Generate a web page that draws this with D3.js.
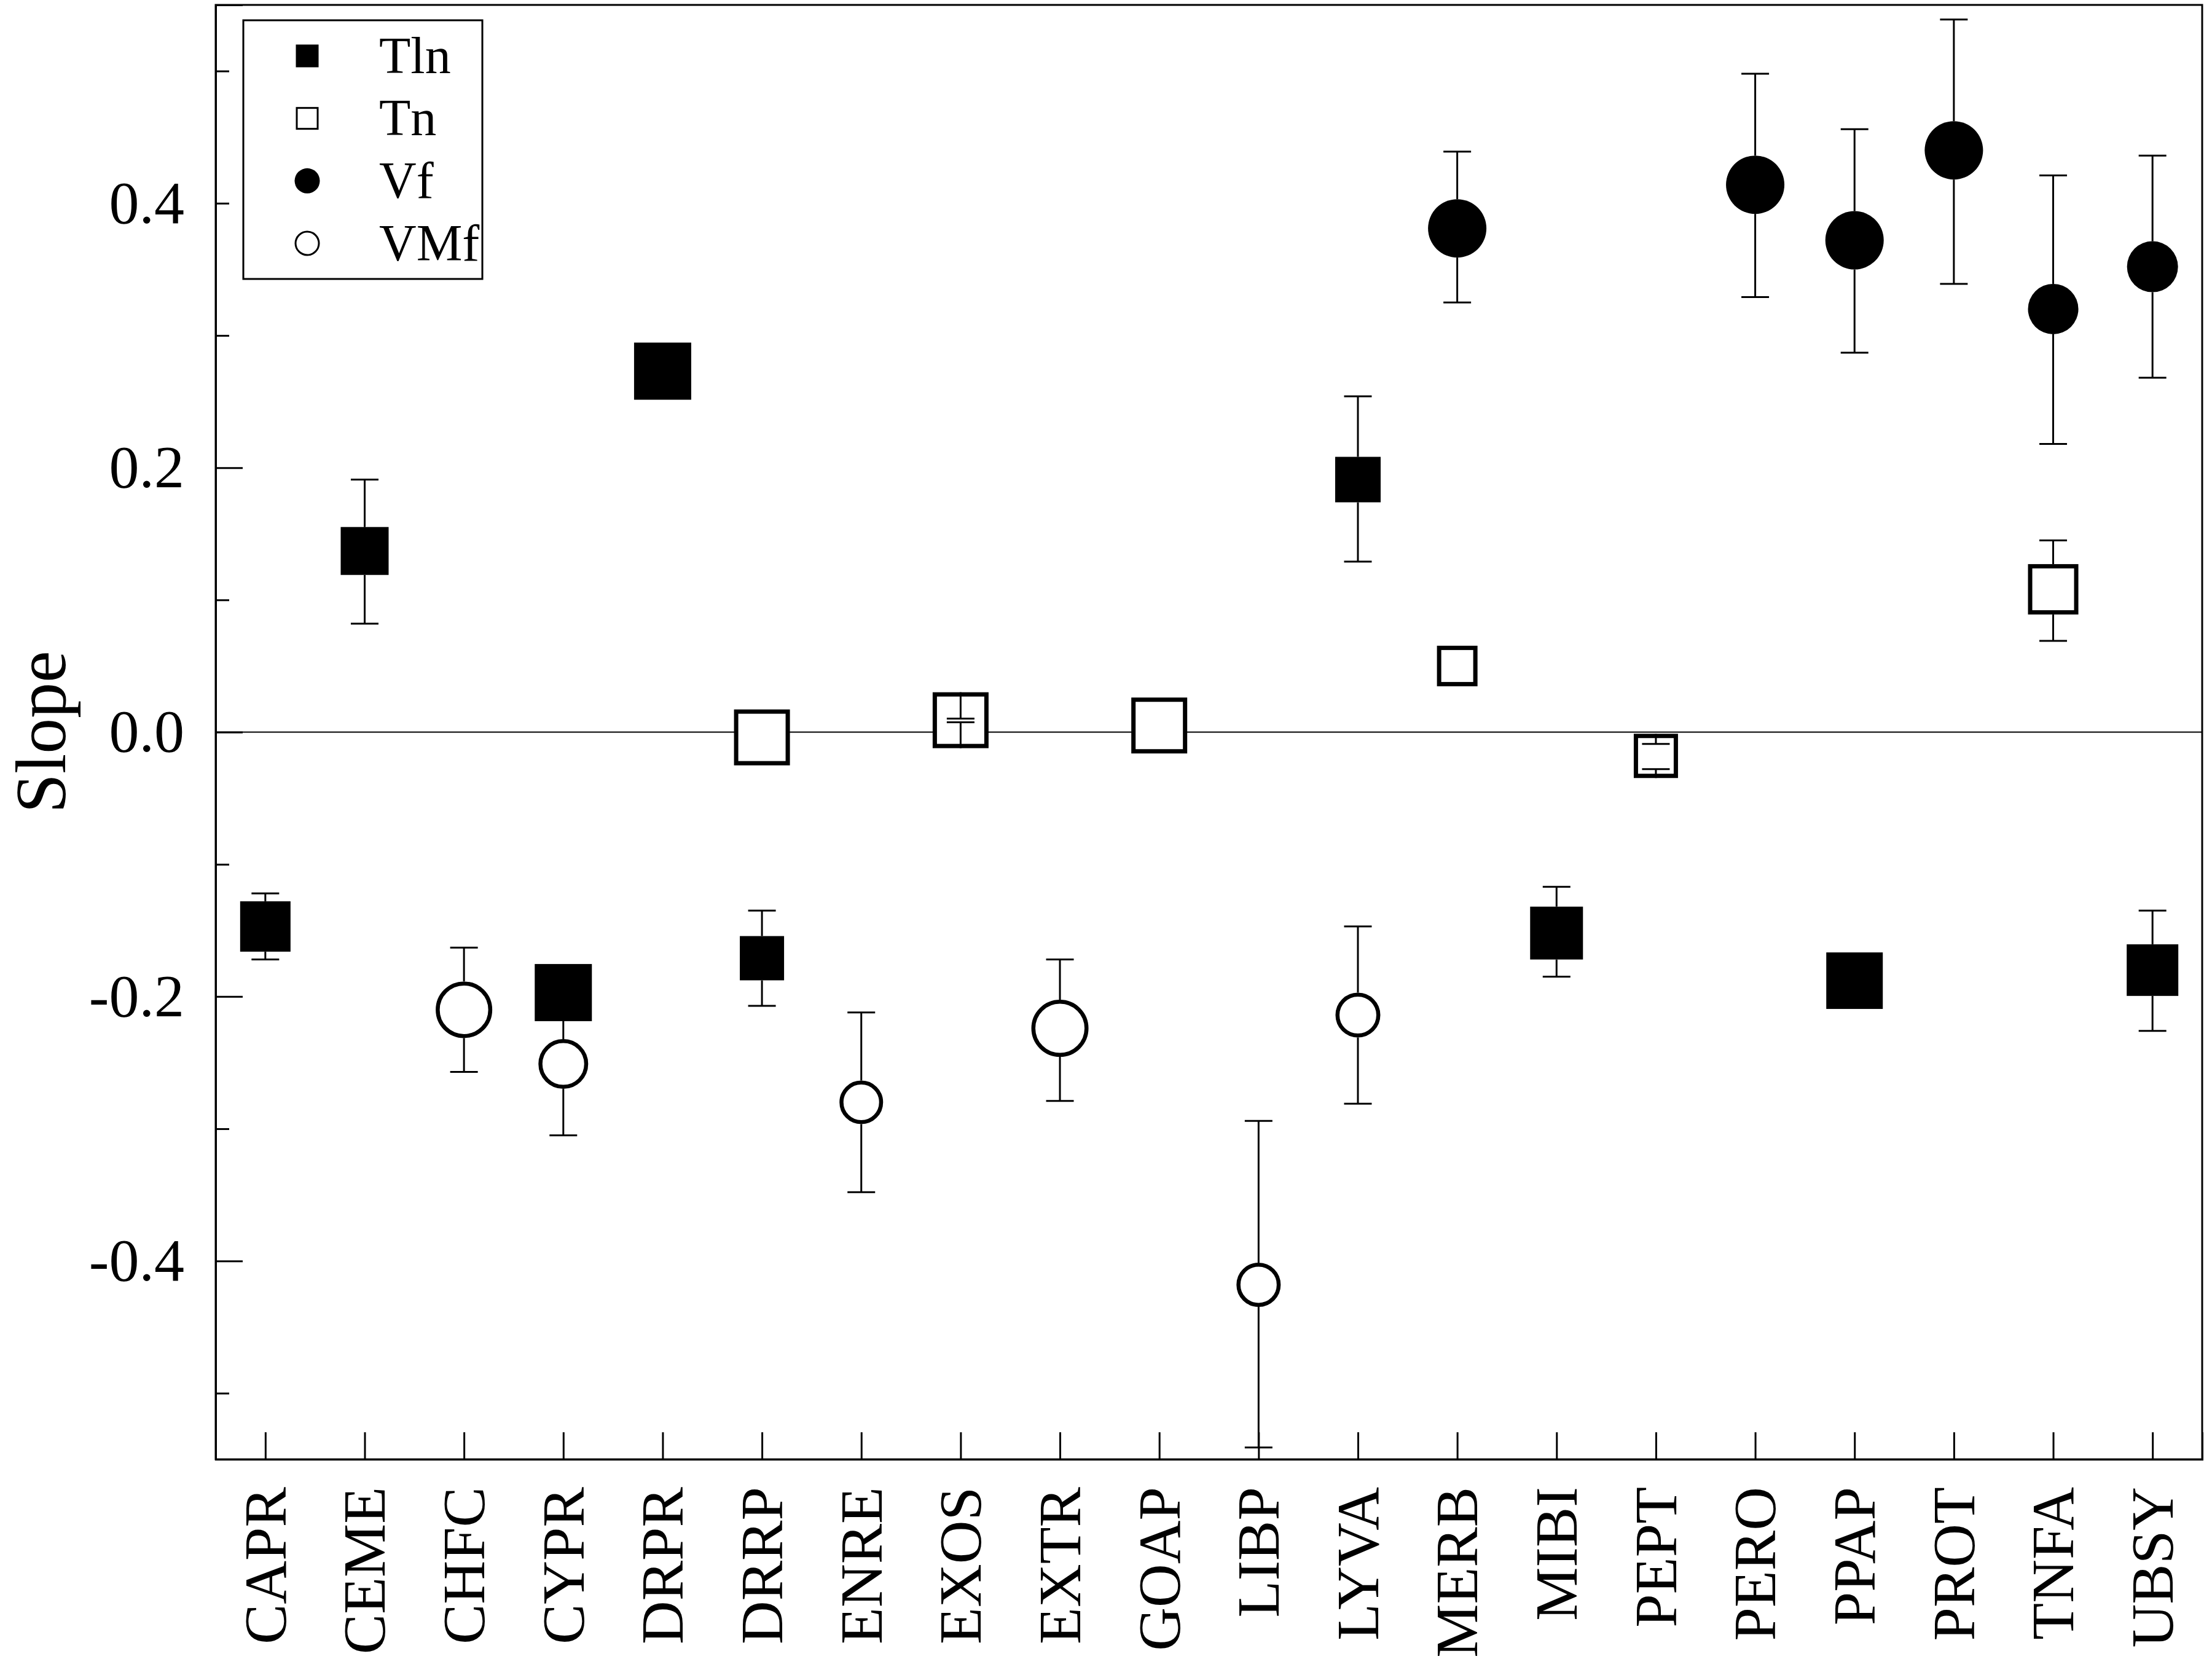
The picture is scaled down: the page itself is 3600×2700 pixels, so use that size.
<!DOCTYPE html>
<html>
<head>
<meta charset="utf-8">
<script src="https://cdn.jsdelivr.net/npm/d3@7"></script>
<style>
  html, body { margin: 0; padding: 0; background: #fff; }
  svg { display: block; }
  text { font-family: "Liberation Serif", "Times New Roman", serif; fill: #000; }
</style>
</head>
<body>
<svg id="chart" width="3600" height="2700"></svg>
<script>
// ---------------- data ----------------
const categories = ["CAPR","CEME","CHFC","CYPR","DRPR","DRRP","ENRE","EXOS","EXTR","GOAP",
                    "LIBP","LYVA","MERB","MIBI","PEPT","PERO","PPAP","PROT","TNFA","UBSY"];

const yMajorTicks = [-0.4, -0.2, 0.0, 0.2, 0.4];
const yTickLabels = ["-0.4", "-0.2", "0.0", "0.2", "0.4"];
const yMinorTicks = [-0.5, -0.3, -0.1, 0.1, 0.3, 0.5];

const seriesNames = ["Tln", "Tn", "Vf", "VMf"];

// Tln (filled squares)
const tlnCats   = ["CAPR","CEME","CYPR","DRPR","DRRP","LYVA","MIBI","PPAP","UBSY"];
const tlnSlope  = [-0.147, 0.137, -0.197, 0.273, -0.171, 0.191, -0.152, -0.188, -0.180];
const tlnLower  = [-0.172, 0.082, null, null, -0.207, 0.129, -0.185, null, -0.226];
const tlnUpper  = [-0.122, 0.191, null, null, -0.135, 0.254, -0.117, null, -0.135];
const tlnWeight = [8.2, 7.8, 9.3, 9.3, 7.2, 7.4, 8.6, 9.2, 8.4];

// Tn (open squares)
const tnCats   = ["DRRP","EXOS","GOAP","MERB","PEPT","TNFA"];
const tnSlope  = [-0.004, 0.009, 0.005, 0.050, -0.018, 0.108];
const tnLower  = [null, 0.0074, null, null, -0.028, 0.069];
const tnUpper  = [null, 0.0102, null, null, -0.009, 0.145];
const tnWeight = [9.1, 9.1, 9.1, 6.6, 7.2, 8.2];

// Vf (filled circles)
const vfCats   = ["MERB","PERO","PPAP","PROT","TNFA","UBSY"];
const vfSlope  = [0.381, 0.414, 0.372, 0.440, 0.320, 0.352];
const vfLower  = [0.325, 0.329, 0.287, 0.339, 0.218, 0.268];
const vfUpper  = [0.439, 0.498, 0.456, 0.539, 0.421, 0.436];
const vfWeight = [9.5, 9.5, 9.5, 9.5, 8.2, 8.3];

// VMf (open circles)
const vmfCats   = ["CHFC","CYPR","ENRE","EXTR","LIBP","LYVA"];
const vmfSlope  = [-0.210, -0.251, -0.280, -0.224, -0.418, -0.214];
const vmfLower  = [-0.257, -0.305, -0.348, -0.279, -0.541, -0.281];
const vmfUpper  = [-0.163, -0.197, -0.212, -0.172, -0.294, -0.147];
const vmfWeight = [9.2, 8.1, 7.1, 9.3, 7.2, 7.3];

// ---------------- build ----------------
(function () {
function rows(cats, slope, lower, upper, weight) {
  return cats.map((c, i) => ({ cat: c, v: slope[i], lo: lower[i], hi: upper[i], w: weight[i] }));
}
const series = [
  { name: "Tln", shape: "square", filled: true,  data: rows(tlnCats, tlnSlope, tlnLower, tlnUpper, tlnWeight) },
  { name: "Tn",  shape: "square", filled: false, data: rows(tnCats, tnSlope, tnLower, tnUpper, tnWeight) },
  { name: "Vf",  shape: "circle", filled: true,  data: rows(vfCats, vfSlope, vfLower, vfUpper, vfWeight) },
  { name: "VMf", shape: "circle", filled: false, data: rows(vmfCats, vmfSlope, vmfLower, vmfUpper, vmfWeight) }
];

const pL = 351, pR = 3584, pT = 8, pB = 2375;
const svg = d3.select("#chart");

const x = d3.scalePoint().domain(categories).range([pL, pR]).padding(0.5);
const y = d3.scaleLinear().domain([-0.55, 0.55]).range([pB, pT]);
const sizeScale = d3.scaleLinear().domain([0, 10]).range([0, 100]);

// frame
svg.append("rect")
  .attr("x", pL).attr("y", pT)
  .attr("width", pR - pL).attr("height", pB - pT)
  .attr("fill", "none").attr("stroke", "#000").attr("stroke-width", 3);

// zero line
svg.append("line")
  .attr("x1", pL).attr("x2", pR)
  .attr("y1", y(0)).attr("y2", y(0))
  .attr("stroke", "#000").attr("stroke-width", 2);

// y axis: major ticks with labels
const yAxis = d3.axisLeft(y)
  .tickValues(yMajorTicks)
  .tickFormat((d, i) => yTickLabels[i])
  .tickSize(-44)
  .tickPadding(51);
const gy = svg.append("g").attr("transform", `translate(${pL},0)`).call(yAxis);
gy.select(".domain").attr("stroke-width", 3);
gy.selectAll(".tick line").attr("stroke-width", 3)
  .attr("x2", d => (d === 0.4 ? 22 : 44));
gy.selectAll(".tick text")
  .style("font-family", '"Liberation Serif", "Times New Roman", serif')
  .style("font-size", "98px");

// y axis minor ticks
const yMinor = d3.axisLeft(y).tickValues(yMinorTicks).tickFormat("").tickSize(-22);
const gym = svg.append("g").attr("transform", `translate(${pL},0)`).call(yMinor);
gym.select(".domain").remove();
gym.selectAll(".tick line").attr("stroke-width", 3);

// x axis
const xAxis = d3.axisBottom(x).tickSize(-44).tickPadding(0);
const gx = svg.append("g").attr("transform", `translate(0,${pB})`).call(xAxis);
gx.select(".domain").attr("stroke-width", 3);
gx.selectAll(".tick line").attr("stroke-width", 3);
gx.selectAll(".tick text")
  .style("font-family", '"Liberation Serif", "Times New Roman", serif')
  .style("font-size", "98px")
  .attr("transform", "rotate(-90)")
  .attr("text-anchor", "end")
  .attr("x", -45)
  .attr("y", 0)
  .attr("dy", "0.33em");

// y title
svg.append("text")
  .attr("transform", `translate(106,${y(0)}) rotate(-90)`)
  .attr("text-anchor", "middle")
  .style("font-size", "116px")
  .text("Slope");

// markers
const plot = svg.append("g");
function drawMarker(g, shape, filled, cx, cy, s, sw) {
  if (shape === "square") {
    const a = filled ? s : s - sw;
    g.append("rect")
      .attr("x", cx - a / 2).attr("y", cy - a / 2)
      .attr("width", a).attr("height", a)
      .attr("fill", filled ? "#000" : "#fff")
      .attr("stroke", filled ? "none" : "#000")
      .attr("stroke-width", filled ? 0 : sw);
  } else {
    const r = filled ? s / 2 : (s - sw) / 2;
    g.append("circle")
      .attr("cx", cx).attr("cy", cy).attr("r", r)
      .attr("fill", filled ? "#000" : "#fff")
      .attr("stroke", filled ? "none" : "#000")
      .attr("stroke-width", filled ? 0 : sw);
  }
}

series.forEach(se => {
  se.data.forEach(d => {
    drawMarker(plot, se.shape, se.filled, x(d.cat), y(d.v), sizeScale(d.w), se.shape === "square" ? 7 : 6.5);
  });
});

// error bars (drawn from marker edge to cap)
const capHalf = 22.5;
series.forEach(se => {
  se.data.forEach(d => {
    if (d.lo == null || d.hi == null) return;
    const cx = x(d.cat), cy = y(d.v), half = sizeScale(d.w) / 2;
    const yHi = y(d.hi), yLo = y(d.lo);
    [[cy - half, yHi], [cy + half, yLo]].forEach(([from, to]) => {
      plot.append("line")
        .attr("x1", cx).attr("x2", cx).attr("y1", from).attr("y2", to)
        .attr("stroke", "#000").attr("stroke-width", 3);
      plot.append("line")
        .attr("x1", cx - capHalf).attr("x2", cx + capHalf).attr("y1", to).attr("y2", to)
        .attr("stroke", "#000").attr("stroke-width", 3);
    });
  });
});

// legend
const lg = svg.append("g");
lg.append("rect")
  .attr("x", 396).attr("y", 33).attr("width", 389).attr("height", 421)
  .attr("fill", "#fff").attr("stroke", "#000").attr("stroke-width", 3);
const legendRowY = d3.scalePoint().domain(seriesNames).range([91, 396]);
series.forEach(se => {
  const cy = legendRowY(se.name);
  drawMarker(lg, se.shape, se.filled, 500, cy, se.shape === "square" ? 37 : 41, 3);
  lg.append("text")
    .attr("x", 617).attr("y", cy).attr("dy", "0.33em")
    .style("font-size", "84px")
    .text(se.name);
});
})();
</script>
</body>
</html>
